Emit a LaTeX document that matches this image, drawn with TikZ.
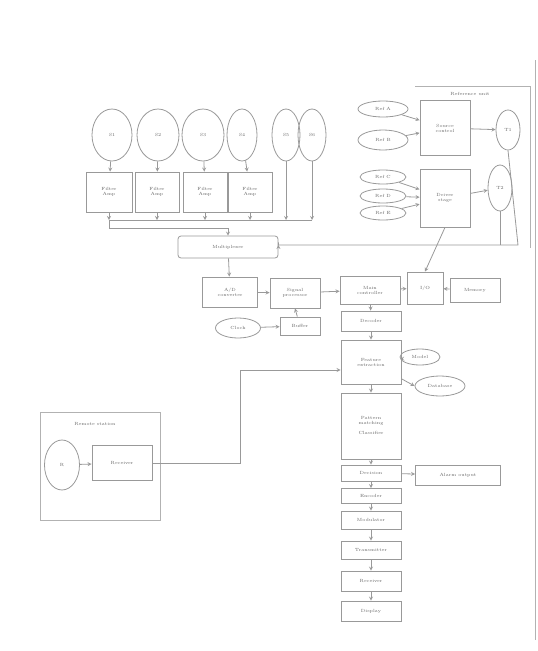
\documentclass[tikz,border=0pt]{standalone}
\usepackage{tikz}
\usetikzlibrary{positioning, arrows, shapes.geometric}

\begin{document}
\begin{tikzpicture}[x=1pt,y=-1pt,->,>=stealth,line width=0.8pt,draw=black!40,
    every node/.style={font=\fontsize{4.5}{5}\selectfont,text=black!60,align=center},
    blk/.style={draw=black!40,rectangle,inner sep=1pt},
    oval/.style={draw=black!40,ellipse,inner sep=1pt},
    frame/.style={draw=black!30,-,line width=0.9pt}]
      \useasboundingbox (0,0) rectangle (538,651);
      \draw[frame] (535,60) -- (535,640);

      % sensor row
      \node[oval, minimum width=40, minimum height=52] (e1) at (112,135) {S1};
      \node[oval, minimum width=42, minimum height=52] (e2) at (158,135) {S2};
      \node[oval, minimum width=42, minimum height=52] (e3) at (203,135) {S3};
      \node[oval, minimum width=30, minimum height=52] (e4) at (242,135) {S4};
      \node[oval, minimum width=28, minimum height=52] (e5) at (286,135) {S5};
      \node[oval, minimum width=28, minimum height=52] (e6) at (312,135) {S6};
      \node[blk, minimum width=46, minimum height=40] (b1) at (109,192) {Filter\\Amp};
      \node[blk, minimum width=44, minimum height=40] (b2) at (157,192) {Filter\\Amp};
      \node[blk, minimum width=44, minimum height=40] (b3) at (205,192) {Filter\\Amp};
      \node[blk, minimum width=44, minimum height=40] (b4) at (250,192) {Filter\\Amp};
      \coordinate (k1) at (109,220); \coordinate (k2) at (157,220);
      \coordinate (k3) at (205,220); \coordinate (k4) at (250,220);
      \coordinate (k5) at (286,220); \coordinate (k6) at (312,220);
      \node[blk, rounded corners=3, minimum width=100, minimum height=22] (mux) at (228,247) {Multiplexer};

      \path (e1) edge (b1) (e2) edge (b2) (e3) edge (b3) (e4) edge (b4)
            (b1) edge (k1) (b2) edge (k2) (b3) edge (k3) (b4) edge (k4)
            (e5) edge (k5) (e6) edge (k6);
      \draw[-] (k1) -- (k6);
      \draw (k1) -- (109,228) -| (mux.north);

      % reference unit
      \node (rt) at (470,94) {Reference unit};
      \node[oval, minimum width=50, minimum height=16] (r1) at (383,109) {Ref A};
      \node[oval, minimum width=50, minimum height=20] (r2) at (383,140) {Ref B};
      \node[oval, minimum width=46, minimum height=14] (r3) at (383,177) {Ref C};
      \node[oval, minimum width=46, minimum height=14] (r4) at (383,196) {Ref D};
      \node[oval, minimum width=46, minimum height=14] (r5) at (383,213) {Ref E};
      \node[blk, minimum width=50, minimum height=55] (rb1) at (445,128) {Source\\control};
      \node[blk, minimum width=50, minimum height=58] (rb2) at (445,198) {Driver\\stage};
      \node[oval, minimum width=24, minimum height=40] (ro1) at (508,130) {T1};
      \node[oval, minimum width=24, minimum height=46] (ro2) at (500,188) {T2};
      \draw[frame] (415,86) -- (530,86) -- (530,248);

      \path (r1) edge (rb1) (r2) edge (rb1) (r3) edge (rb2) (r4) edge (rb2) (r5) edge (rb2)
            (rb1) edge (ro1) (rb2) edge (ro2);
      \draw[-] (ro2) -- (500,245);
      \draw (ro1.south) -- (518,245) -| (mux.east |- 245,245);

      % processing row
      \node[blk, minimum width=55, minimum height=30] (adc) at (230,292) {A/D\\converter};
      \node[blk, minimum width=50, minimum height=30] (dsp) at (295,293) {Signal\\processor};
      \node[blk, minimum width=60, minimum height=28] (ctl) at (370,290) {Main\\controller};
      \node[blk, minimum width=36, minimum height=32] (ifc) at (425,288) {I/O};
      \node[blk, minimum width=50, minimum height=24] (mem) at (475,290) {Memory};
      \node[oval, minimum width=45, minimum height=20] (clk) at (238,328) {Clock};
      \node[blk, minimum width=40, minimum height=18] (buf) at (300,326) {Buffer};

      \path (mux) edge (adc) (adc) edge (dsp) (dsp) edge (ctl) (ctl) edge (ifc)
            (mem) edge (ifc) (clk) edge (buf) (buf) edge (dsp.south);
      \draw (rb2.south) -- (ifc.north);

      % main column
      \node[blk, minimum width=60, minimum height=20] (c1) at (371,321) {Decoder};
      \node[blk, minimum width=60, minimum height=44] (c2) at (371,362) {Feature\\extraction};
      \node[blk, minimum width=60, minimum height=66] (c3) at (371,426) {Pattern\\matching\\\\Classifier};
      \node[blk, minimum width=60, minimum height=16] (c4) at (371,473) {Decision};
      \node[blk, minimum width=60, minimum height=15] (c5) at (371,496) {Encoder};
      \node[blk, minimum width=60, minimum height=18] (c6) at (371,520) {Modulator};
      \node[blk, minimum width=60, minimum height=18] (c7) at (371,550) {Transmitter};
      \node[blk, minimum width=60, minimum height=20] (c8) at (371,581) {Receiver};
      \node[blk, minimum width=60, minimum height=20] (c9) at (371,611) {Display};
      \node[oval, minimum width=40, minimum height=16] (s1) at (420,357) {Model};
      \node[oval, minimum width=50, minimum height=20] (s2) at (440,386) {Database};
      \node[blk, minimum width=85, minimum height=20] (out) at (458,475) {Alarm output};

      \path (ctl) edge (c1) (c1) edge (c2) (c2) edge (c3) (c3) edge (c4)
            (c4) edge (c5) (c5) edge (c6) (c6) edge (c7) (c7) edge (c8) (c8) edge (c9)
            (c2) edge (s1) (c2) edge (s2.west) (c4) edge (out);

      % remote unit
      \draw[frame] (40,412) rectangle (160,520);
      \node (lt) at (95,424) {Remote station};
      \node[oval, minimum width=35, minimum height=50] (rs) at (62,465) {R};
      \node[blk, minimum width=60, minimum height=35] (rx) at (122,463) {Receiver};
      \path (rs) edge (rx);
      \draw (rx.east) -- (240,463) -- (240,370) -- (c2.west |- 240,370);
\end{tikzpicture}
\end{document}
